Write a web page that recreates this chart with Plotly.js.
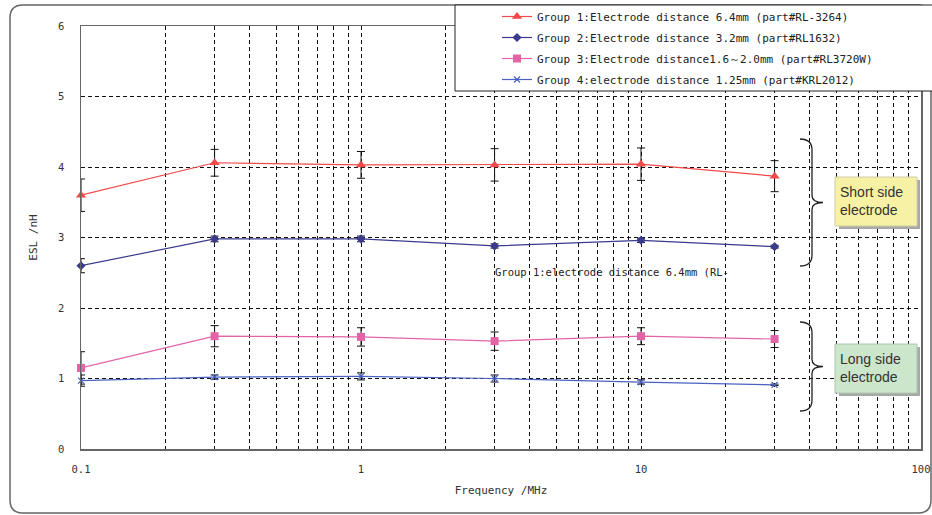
<!DOCTYPE html>
<html>
<head>
<meta charset="utf-8">
<script src="https://cdn.plot.ly/plotly-3.0.1.min.js"></script>
<style>html,body{margin:0;padding:0;background:#fff;}#chart{width:932px;height:515px;}</style>
</head>
<body>
<div id="chart"></div>
<script>
// ---- data ----
const freq = [0.1, 0.3, 1, 3, 10, 30];
const g1 = [3.60, 4.06, 4.03, 4.03, 4.04, 3.87];
const g1Err = [0.23, 0.19, 0.19, 0.23, 0.23, 0.22];
const g2 = [2.60, 2.98, 2.98, 2.88, 2.96, 2.87];
const g2Err = [0.10, 0.04, 0.04, 0.03, 0.03, 0.02];
const g3 = [1.15, 1.60, 1.59, 1.53, 1.60, 1.56];
const g3Err = [0.23, 0.15, 0.13, 0.13, 0.12, 0.12];
const g4 = [0.97, 1.02, 1.03, 1.00, 0.95, 0.91];
const g4Err = [0.08, 0.03, 0.05, 0.05, 0.03, 0.01];
const seriesNames = [
  "Group 1:Electrode distance 6.4mm (part#RL-3264)",
  "Group 2:Electrode distance 3.2mm (part#RL1632)",
  "Group 3:Electrode distance1.6～2.0mm (part#RL3720W)",
  "Group 4:electrode distance 1.25mm (part#KRL2012)"
];
const xTickVals = [0.1,0.2,0.3,0.4,0.5,0.6,0.7,0.8,0.9,1,2,3,4,5,6,7,8,9,10,20,30,40,50,60,70,80,90,100];
const xTickText = ["0.1","","","","","","","","","1","","","","","","","","","10","","","","","","","","","100"];
const yTickVals = [0,1,2,3,4,5,6];
const xTitle = "Frequency /MHz";
const yTitle = "ESL /nH";
const noteText = "Group 1:electrode distance 6.4mm (RL-";
const shortLabel = "Short side<br>electrode";
const longLabel = "Long side<br>electrode";

// ---- geometry helpers (pixel -> paper) ----
const W = 932, H = 515, ML = 81, MR = 11, MT = 26, MB = 66;
const PW = W - ML - MR, PH = H - MT - MB;
const px = x => (x - ML) / PW;
const py = y => (H - MB - y) / PH;
function path(cmds) {
  return cmds.map(c => {
    const [op, ...nums] = c;
    const out = [];
    for (let i = 0; i < nums.length; i += 2) out.push(px(nums[i]).toFixed(5) + "," + py(nums[i+1]).toFixed(5));
    return op + out.join(" ");
  }).join(" ") ;
}
function brace(x0, yTop, yBot, tipX) {
  const xm = x0 + 12, yc = (yTop + yBot) / 2;
  return path([["M", x0, yTop], ["Q", xm, yTop, xm, yTop + 11], ["L", xm, yc - 7],
    ["Q", xm, yc, tipX, yc], ["Q", xm, yc, xm, yc + 7], ["L", xm, yBot - 11],
    ["Q", xm, yBot, x0, yBot]]);
}
function roundRect(x0, y0, x1, y1, r) {
  return path([["M", x0 + r, y0], ["L", x1 - r, y0], ["Q", x1, y0, x1, y0 + r], ["L", x1, y1 - r],
    ["Q", x1, y1, x1 - r, y1], ["L", x0 + r, y1], ["Q", x0, y1, x0, y1 - r], ["L", x0, y0 + r],
    ["Q", x0, y0, x0 + r, y0]]) + " Z";
}

const mono = "DejaVu Sans Mono, monospace";
function err(arr) { return {type: "data", array: arr, visible: true, color: "#111", thickness: 1, width: 4}; }

const traces = [
  {x: freq, y: g1, error_y: err(g1Err), name: seriesNames[0], mode: "lines+markers", cliponaxis: false,
   line: {color: "#f04a4a", width: 1.2}, marker: {symbol: "triangle-up", size: 9, color: "#f04a4a"}, legendgroup: "a"},
  {x: freq, y: g2, error_y: err(g2Err), name: seriesNames[1], mode: "lines+markers", cliponaxis: false,
   line: {color: "#3a3a8e", width: 1.2}, marker: {symbol: "diamond", size: 7, color: "#3a3a8e"}, legendgroup: "b"},
  {x: freq, y: g3, error_y: err(g3Err), name: seriesNames[2], mode: "lines+markers", cliponaxis: false,
   line: {color: "#e264a6", width: 1.2}, marker: {symbol: "square", size: 8, color: "#e264a6"}, legendgroup: "c"},
  {x: freq, y: g4, error_y: err(g4Err), name: seriesNames[3], mode: "lines+markers", cliponaxis: false,
   line: {color: "#4a62c2", width: 1.2}, marker: {symbol: "x-thin-open", size: 6, color: "#4a62c2", line: {width: 1.2, color: "#4a62c2"}}, legendgroup: "d"}
];

const layout = {
  width: W, height: H, autosize: false,
  margin: {l: ML, r: MR, t: MT, b: MB, pad: 0, autoexpand: false},
  paper_bgcolor: "#fff", plot_bgcolor: "#fff",
  font: {family: mono, size: 11, color: "#333"},
  showlegend: true,
  legend: {x: px(497), y: py(2), xanchor: "left", yanchor: "top", bgcolor: "rgba(0,0,0,0)",
           borderwidth: 0, font: {family: mono, size: 11, color: "#222"}, tracegroupgap: 2},
  xaxis: {type: "log", range: [-1, 2], tickvals: xTickVals, ticktext: xTickText,
          showgrid: true, gridcolor: "#111", gridwidth: 1, griddash: "4px,3px",
          showline: true, linecolor: "#666", linewidth: 1.5, mirror: true, zeroline: false,
          ticks: "outside", ticklen: 10, tickcolor: "rgba(0,0,0,0)",
          tickfont: {family: mono, size: 10.5, color: "#333"},
          title: {text: xTitle, font: {family: mono, size: 11, color: "#333"}, standoff: 12}},
  yaxis: {range: [0, 6], tickvals: yTickVals, showgrid: true, gridcolor: "#111", gridwidth: 1, griddash: "4px,3px",
          showline: true, linecolor: "#666", linewidth: 1.5, mirror: true, zeroline: false,
          ticks: "outside", ticklen: 13, tickcolor: "rgba(0,0,0,0)",
          tickfont: {family: mono, size: 10.5, color: "#333"},
          title: {text: yTitle, font: {family: mono, size: 11, color: "#333"}, standoff: 18}},
  shapes: [
    {type: "path", xref: "paper", yref: "paper", path: roundRect(10, 5, 931, 513, 13),
     line: {color: "#666", width: 1.5}, layer: "below"},
    {type: "rect", xref: "paper", yref: "paper", x0: px(455), x1: px(940), y0: py(91), y1: py(5),
     fillcolor: "#fff", line: {color: "#222", width: 1}, layer: "above"},
    {type: "path", xref: "paper", yref: "paper", path: brace(800, 139, 266, 823), line: {color: "#222", width: 1.3}, layer: "above"},
    {type: "path", xref: "paper", yref: "paper", path: brace(800, 322, 411, 823), line: {color: "#222", width: 1.3}, layer: "above"},
    {type: "rect", xref: "paper", yref: "paper", x0: px(839), x1: px(920), y0: py(229), y1: py(180),
     fillcolor: "#a8a8a8", line: {width: 0}, layer: "above"},
    {type: "rect", xref: "paper", yref: "paper", x0: px(839), x1: px(920), y0: py(396), y1: py(347),
     fillcolor: "#a8a8a8", line: {width: 0}, layer: "above"},
    {type: "rect", xref: "paper", yref: "paper", x0: px(835), x1: px(917), y0: py(226), y1: py(177),
     fillcolor: "#f6f1a4", line: {color: "#cfcfa8", width: 1}, layer: "above"},
    {type: "rect", xref: "paper", yref: "paper", x0: px(835), x1: px(917), y0: py(393), y1: py(344),
     fillcolor: "#cbe6cb", line: {color: "#b0c8b0", width: 1}, layer: "above"}
  ],
  annotations: [
    {xref: "paper", yref: "paper", x: px(493), y: py(272), xanchor: "left", yanchor: "middle",
     text: noteText, showarrow: false, font: {family: mono, size: 10.5, color: "#222"}},
    {xref: "paper", yref: "paper", x: px(838), y: py(201), xanchor: "left", yanchor: "middle", align: "left",
     text: shortLabel, showarrow: false, font: {family: "Liberation Sans, Arial, sans-serif", size: 14, color: "#333"}},
    {xref: "paper", yref: "paper", x: px(838), y: py(368), xanchor: "left", yanchor: "middle", align: "left",
     text: longLabel, showarrow: false, font: {family: "Liberation Sans, Arial, sans-serif", size: 14, color: "#333"}}
  ]
};

Plotly.newPlot("chart", traces, layout, {displayModeBar: false, staticPlot: true});
</script>
</body>
</html>
